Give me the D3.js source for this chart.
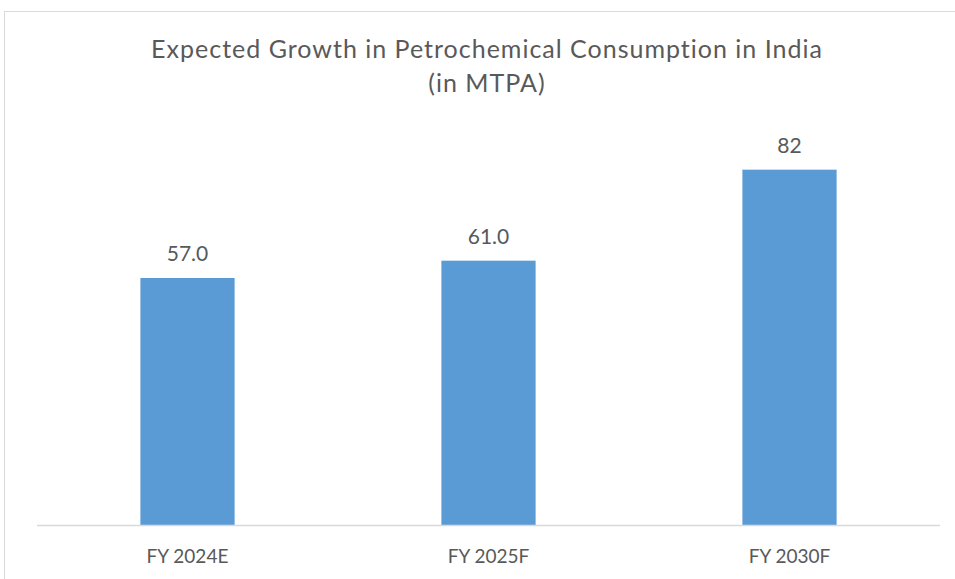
<!DOCTYPE html>
<meta charset="utf-8">
<style>
  body { margin: 0; background: #fff; }
  text { font-family: Lato, "Open Sans", sans-serif; fill: #595959; }
</style>
<body>
<svg width="955" height="579"></svg>
<script src="https://cdn.jsdelivr.net/npm/d3@7"></script>
<script>

var categories = ["FY 2024E", "FY 2025F", "FY 2030F"];
var values = [57.0, 61.0, 82];
var valueLabels = ["57.0", "61.0", "82"];
var titleLines = ["Expected Growth in Petrochemical Consumption in India", "(in MTPA)"];

var svg = d3.select("svg");

// chart frame
svg.append("rect")
    .attr("x", 4.5).attr("y", 11.5)
    .attr("width", 960).attr("height", 600)
    .attr("fill", "none")
    .attr("stroke", "#d9d9d9");

var x = d3.scaleBand()
    .domain(categories)
    .range([37, 940])
    .paddingInner(0.687)
    .paddingOuter(0.3435);

var y = d3.scaleLinear()
    .domain([0, 90])
    .range([525, 135]);

svg.selectAll(".bar")
    .data(values)
  .enter().append("rect")
    .attr("class", "bar")
    .attr("x", function(d, i) { return x(categories[i]); })
    .attr("y", function(d) { return y(d); })
    .attr("width", x.bandwidth())
    .attr("height", function(d) { return y(0) - y(d); })
    .attr("fill", "#5b9bd5");

svg.selectAll(".vlabel")
    .data(values)
  .enter().append("text")
    .attr("class", "vlabel")
    .attr("x", function(d, i) { return x(categories[i]) + x.bandwidth() / 2; })
    .attr("y", function(d) { return y(d) - 17; })
    .attr("text-anchor", "middle")
    .style("font-size", "21px")
    .text(function(d, i) { return valueLabels[i]; });

// baseline
svg.append("line")
    .attr("x1", 37).attr("x2", 940)
    .attr("y1", y(0) + 0.5).attr("y2", y(0) + 0.5)
    .attr("stroke", "#d9d9d9")
    .attr("stroke-width", 1.5);

var xAxis = svg.append("g")
    .attr("transform", "translate(0," + y(0) + ")")
    .call(d3.axisBottom(x).tickSize(0));
xAxis.select(".domain").remove();
xAxis.selectAll("text")
    .attr("y", 38)
    .attr("dy", 0)
    .attr("fill", "#595959")
    .style("font-size", "19px")
    .style("font-family", "Lato, sans-serif");

svg.selectAll(".title")
    .data(titleLines)
  .enter().append("text")
    .attr("class", "title")
    .attr("x", 487)
    .attr("y", function(d, i) { return 58 + i * 34; })
    .attr("text-anchor", "middle")
    .style("font-size", "25px")
    .style("letter-spacing", "1px")
    .text(function(d) { return d; });

</script>
</body>
